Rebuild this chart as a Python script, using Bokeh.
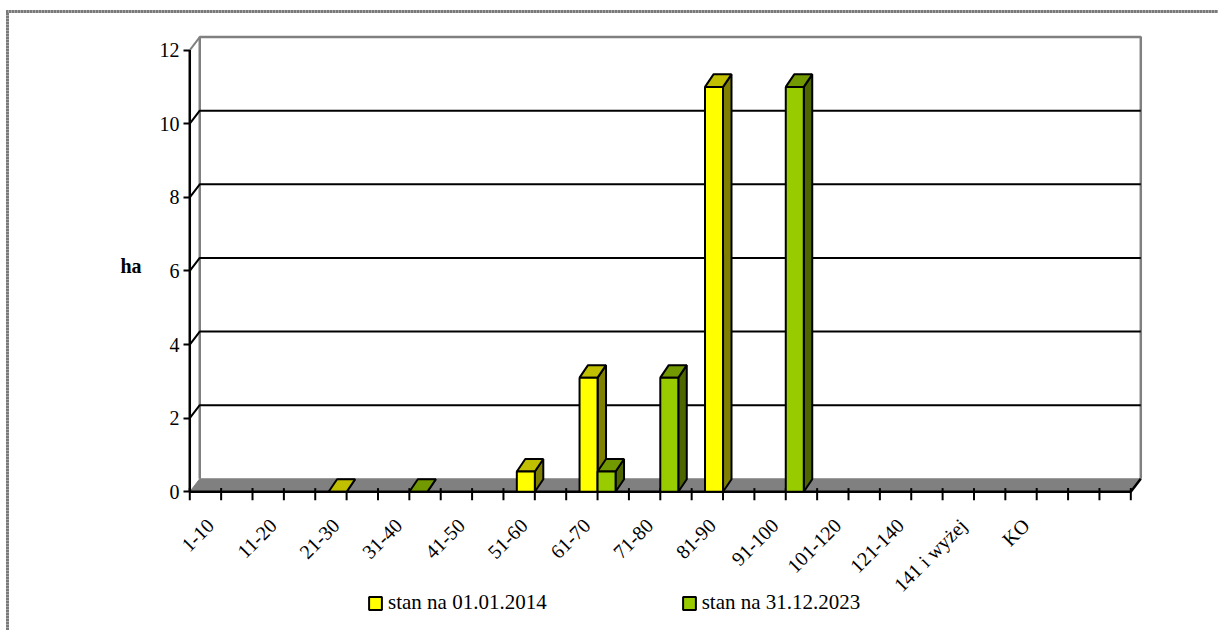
import math

from bokeh.core.properties import value
from bokeh.embed import file_html
from bokeh.models import FixedTicker, Legend, LegendItem, LinearAxis, Range1d
from bokeh.plotting import figure
from bokeh.resources import INLINE

# ---- data -------------------------------------------------------------
categories = ["1-10", "11-20", "21-30", "31-40", "41-50", "51-60", "61-70",
              "71-80", "81-90", "91-100", "101-120", "121-140",
              "141 i wyżej", "KO"]
n_slots = 15  # the category axis keeps one empty slot on the right
series_names = ["stan na 01.01.2014", "stan na 31.12.2023"]
area_2014 = [None, None, 0.0, None, None, 0.55, 3.1, None, 11.0,
             None, None, None, None, None]
area_2023 = [None, None, None, 0.0, None, None, 0.55, 3.1, None,
             11.0, None, None, None, None]
y_ticks = [0, 2, 4, 6, 8, 10, 12]
y_label = "ha"

# ---- style ------------------------------------------------------------
FONT = "Liberation Serif"
face_colors = [
    {"front": "#FFFF00", "top": "#C0C000", "side": "#808000"},
    {"front": "#99CC00", "top": "#739900", "side": "#4D6600"},
]
BAR_W = 0.287            # bar width in category units
BDX, BDY = 0.135, 0.34   # bar depth offset (x in categories, y in ha)
WDX, WDY = 0.159, 0.353  # wall depth offset
Y_MAX = y_ticks[-1]
TICK_TOP, TICK_BOTTOM = 0.1, -0.23   # category tick marks, in ha
LABEL_DX, LABEL_Y = -0.172, -0.823   # rotated category label anchor

# the plotting frame reaches the bottom edge so the category labels and
# the legend below the floor are drawn in data space
p = figure(frame_width=963, frame_height=597,
           output_backend="svg", toolbar_location=None,
           x_range=Range1d(-0.1, 15.25), y_range=Range1d(-3.768, 12.45),
           min_border_left=183, min_border_right=72,
           min_border_top=33, min_border_bottom=0)
p.grid.visible = False
p.outline_line_color = None
p.background_fill_alpha = 0
p.border_fill_alpha = 0
p.xaxis.visible = False
p.yaxis.visible = False

# dotted chart-area frame along the top and left edges
dots_h = "repeating-linear-gradient(90deg, #7a7a7a 0 2px, #a8a8a8 2px 3px)"
dots_v = "repeating-linear-gradient(180deg, #7a7a7a 0 2px, #a8a8a8 2px 3px)"
p.styles = {
    "background-color": "white",
    "background-image": f"{dots_h}, {dots_v}",
    "background-position": "6px 10px, 6px 10px",
    "background-size": "100% 3px, 3px 100%",
    "background-repeat": "no-repeat, no-repeat",
}

# ---- 3D box: floor, back wall, gridlines -------------------------------
p.patch([WDX, n_slots + WDX, n_slots + WDX, WDX],
        [WDY, WDY, Y_MAX + WDY, Y_MAX + WDY],
        fill_color="white", line_color=None)
p.patch([0, n_slots, n_slots + WDX, WDX], [0, 0, WDY, WDY],
        fill_color="#808080", line_color="#808080", line_width=1)
p.line([WDX, WDX, n_slots + WDX, n_slots + WDX],
       [WDY, Y_MAX + WDY, Y_MAX + WDY, WDY],
       line_color="#808080", line_width=2.5)
p.line([0, WDX], [Y_MAX, Y_MAX + WDY], line_color="#808080", line_width=2)
grid_vals = [v for v in y_ticks if 0 < v < Y_MAX]
p.multi_line([[0, WDX, n_slots + WDX] for _ in grid_vals],
             [[v, v + WDY, v + WDY] for v in grid_vals],
             line_color="black", line_width=2)

# front axis lines
p.line([0, 0], [0, Y_MAX], line_color="black", line_width=2.5)
p.line([0, n_slots, n_slots + WDX], [0, 0, WDY], line_color="black",
       line_width=2.5)

# category axis: tick marks at slot edges and centres, rotated labels
tick_x = [k * 0.5 for k in range(2 * n_slots + 1)]
p.segment(x0=tick_x, y0=[TICK_TOP] * len(tick_x),
          x1=tick_x, y1=[TICK_BOTTOM] * len(tick_x),
          line_color="black", line_width=2)
p.text(x=[i + 0.5 + LABEL_DX for i in range(len(categories))],
       y=[LABEL_Y] * len(categories), text=categories,
       angle=math.pi / 4, text_align="right", text_baseline="alphabetic",
       text_font=value(FONT), text_font_size="20px", text_color="black")

# ---- 3D bars ------------------------------------------------------------
front_renderers = []
for s, values in enumerate([area_2014, area_2023]):
    fx0, fx1, fy1 = [], [], []
    top_xs, top_ys, side_xs, side_ys = [], [], [], []
    for i, v in enumerate(values):
        if v is None:
            continue
        c = i + 0.5
        x0 = c - BAR_W if s == 0 else c
        x1 = x0 + BAR_W
        fx0.append(x0)
        fx1.append(x1)
        fy1.append(v)
        top_xs.append([x0, x1, x1 + BDX, x0 + BDX])
        top_ys.append([v, v, v + BDY, v + BDY])
        side_xs.append([x1, x1 + BDX, x1 + BDX, x1])
        side_ys.append([0, BDY, v + BDY, v])
    col = face_colors[s]
    p.patches(side_xs, side_ys, fill_color=col["side"], line_color="black",
              line_width=2)
    p.patches(top_xs, top_ys, fill_color=col["top"], line_color="black",
              line_width=2)
    r = p.quad(left=fx0, right=fx1, bottom=[0] * len(fx0), top=fy1,
               fill_color=col["front"], line_color="black", line_width=2)
    front_renderers.append(r)

# ---- value axis ---------------------------------------------------------
yaxis = LinearAxis(ticker=FixedTicker(ticks=y_ticks))
yaxis.axis_line_color = None
yaxis.major_tick_in = 6
yaxis.major_tick_out = 0
yaxis.major_tick_line_width = 2
yaxis.major_tick_line_color = "black"
yaxis.minor_tick_line_color = None
yaxis.major_label_standoff = 4
yaxis.major_label_text_font = FONT
yaxis.major_label_text_font_size = "20px"
yaxis.major_label_text_color = "black"
# padding lines lift the unit label to the middle of the wall
yaxis.axis_label = y_label + "\n\u00a0" * 5
yaxis.axis_label_orientation = "horizontal"
yaxis.axis_label_text_font = FONT
yaxis.axis_label_text_font_size = "20px"
yaxis.axis_label_text_font_style = "bold"
yaxis.axis_label_text_color = "black"
yaxis.axis_label_standoff = 15
p.add_layout(yaxis, "left")

# ---- legend -------------------------------------------------------------
legend = Legend(items=[LegendItem(label=n, renderers=[r])
                       for n, r in zip(series_names, front_renderers)],
                orientation="horizontal", location=(184, 15),
                glyph_width=16, glyph_height=16, label_standoff=5,
                spacing=134, padding=0, margin=0,
                border_line_color=None, background_fill_alpha=0)
legend.label_text_font = FONT
legend.label_text_font_size = "21px"
legend.label_text_color = "black"
p.add_layout(legend, "center")

open("out.html", "w").write(file_html(p, INLINE))
